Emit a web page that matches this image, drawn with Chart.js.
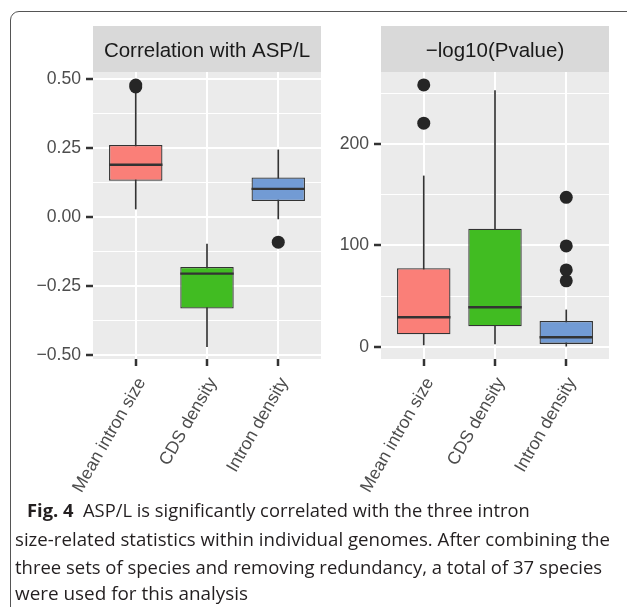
<!DOCTYPE html>
<html>
<head>
<meta charset="utf-8">
<script src="https://cdn.jsdelivr.net/npm/chart.js@4.4.0/dist/chart.umd.min.js"></script>
<style>
  html, body { margin: 0; padding: 0; background: #fff; width: 627px; height: 607px; overflow: hidden; }
  body { position: relative; }
  #frame { position: absolute; left: 10px; top: 11px; width: 640px; height: 620px; border: 1px solid #555; border-top-left-radius: 9px; box-sizing: border-box; }
  canvas { position: absolute; top: 0; }
  .cap { position: absolute; font-family: "Open Sans", sans-serif; font-size: 18px; line-height: 18px; color: #231f20; white-space: pre; transform-origin: 0 0; display: inline-block; }
</style>
</head>
<body>
<div id="frame"></div>
<canvas id="corrChart" width="330" height="500" style="left:0"></canvas>
<canvas id="pvalChart" width="297" height="500" style="left:330px"></canvas>

<span class="cap" data-w="503" style="left:27px;top:501px"><b>Fig. 4</b>  ASP/L is significantly correlated with the three intron</span>
<span class="cap" data-w="595" style="left:15px;top:530px">size-related statistics within individual genomes. After combining the</span>
<span class="cap" data-w="587" style="left:15px;top:558px">three sets of species and removing redundancy, a total of 37 species</span>
<span class="cap" data-w="233" style="left:15px;top:584px">were used for this analysis</span>

<script>
const categories = ['Mean intron size', 'CDS density', 'Intron density'];
const boxColors = ['#FA7F78', '#41BC22', '#729BD4'];

// Correlation with ASP/L
const corrLow      = [0.030, -0.468, -0.006];
const corrQ1       = [0.132, -0.330,  0.059];
const corrMedian   = [0.190, -0.204,  0.103];
const corrQ3       = [0.262, -0.180,  0.144];
const corrHigh     = [0.452, -0.097,  0.244];
const corrOutliers = [[0.472, 0.479], [], [-0.090]];
const corrTicks    = [-0.5, -0.25, 0, 0.25, 0.5];

// -log10(Pvalue)
const pLow      = [1.7, 2.7, 0.5];
const pQ1       = [12.3, 20.2, 2.7];
const pMedian   = [29, 39, 9.3];
const pQ3       = [77.5, 116.6, 25.4];
const pHigh     = [168.7, 253, 36.3];
const pOutliers = [[220.8, 258.6], [], [65, 75.8, 99.5, 147.6]];
const pTicks    = [0, 100, 200];

const FONT = '"Liberation Sans", Arial, Helvetica, sans-serif';

// ggplot-like panel background, strip and median lines
const panelPlugin = {
    id: 'panel',
    beforeDraw(chart, args, opts) {
        const { ctx, chartArea: a } = chart;
        ctx.save();
        ctx.fillStyle = '#EBEBEB';
        ctx.fillRect(a.left, a.top, a.right - a.left, a.bottom - a.top);
        ctx.fillStyle = '#D9D9D9';
        ctx.fillRect(a.left, a.top - 46, a.right - a.left, 46);
        ctx.fillStyle = '#1A1A1A';
        ctx.font = '20.5px ' + FONT;
        ctx.textAlign = 'center';
        ctx.textBaseline = 'alphabetic';
        ctx.fillText(opts.title, (a.left + a.right) / 2, a.top - 15);
        ctx.restore();
    },
    afterDatasetsDraw(chart, args, opts) {
        const { ctx } = chart;
        const meta = chart.getDatasetMeta(1);
        const yScale = chart.scales.y;
        ctx.save();
        ctx.strokeStyle = '#333';
        ctx.lineWidth = 2.4;
        meta.data.forEach((bar, i) => {
            const y = yScale.getPixelForValue(opts.median[i]);
            ctx.beginPath();
            ctx.moveTo(bar.x - bar.width / 2, y);
            ctx.lineTo(bar.x + bar.width / 2, y);
            ctx.stroke();
        });
        ctx.restore();
    }
};

function boxChart(id, p) {
    const isMajor = v => p.ticks.some(t => Math.abs(t - v) < 1e-9);
    return new Chart(document.getElementById(id), {
        type: 'bar',
        data: {
            datasets: [
                { // whiskers
                    type: 'bar', grouped: false, order: 3,
                    data: categories.map((c, i) => ({ x: i + 1, y: [p.low[i], p.high[i]] })),
                    backgroundColor: '#333', barThickness: 1
                },
                { // boxes
                    type: 'bar', grouped: false, order: 2,
                    data: categories.map((c, i) => ({ x: i + 1, y: [p.q1[i], p.q3[i]] })),
                    backgroundColor: boxColors, borderColor: '#333', borderWidth: 1.3,
                    borderSkipped: false, barPercentage: 0.75, categoryPercentage: 1
                },
                { // outliers
                    type: 'scatter', order: 1,
                    data: p.outliers.flatMap((arr, i) => arr.map(v => ({ x: i + 1, y: v }))),
                    pointRadius: 6.5, pointBackgroundColor: '#262626', pointBorderWidth: 0
                }
            ]
        },
        options: {
            responsive: false,
            animation: false,
            layout: { padding: { top: 72, right: p.padRight, bottom: 0, left: 0 } },
            plugins: { legend: { display: false }, tooltip: { enabled: false },
                       panel: { title: p.title, median: p.median } },
            scales: {
                x: {
                    type: 'linear', min: 0.4, max: 3.6, offset: false,
                    afterBuildTicks: s => { s.ticks = categories.map((c, i) => ({ value: i + 1 })); },
                    ticks: { autoSkip: false, minRotation: 60, maxRotation: 60, padding: 8, labelOffset: 6,
                             color: '#4D4D4D', font: { family: FONT, size: 17.6 },
                             callback: v => categories[v - 1] },
                    grid: { offset: false, color: '#fff', lineWidth: 2, tickColor: '#333', tickLength: 7, tickWidth: 2.5 },
                    border: { display: false },
                    afterFit: s => { s.height = 141; }
                },
                y: {
                    min: p.min, max: p.max,
                    ticks: { stepSize: p.step, includeBounds: false, autoSkip: false, padding: 5,
                             color: '#4D4D4D', font: { family: FONT, size: 17.6 },
                             callback: v => isMajor(v) ? p.fmt(v) : '' },
                    grid: { color: '#fff',
                            lineWidth: c => isMajor(c.tick.value) ? 2 : 1,
                            tickColor: c => isMajor(c.tick.value) ? '#333' : 'rgba(0,0,0,0)',
                            tickLength: 7, tickWidth: 2.5 },
                    border: { display: false },
                    afterFit: s => { s.width = p.axisWidth; }
                }
            }
        },
        plugins: [panelPlugin]
    });
}

boxChart('corrChart', {
    title: 'Correlation with ASP/L',
    low: corrLow, q1: corrQ1, median: corrMedian, q3: corrQ3, high: corrHigh, outliers: corrOutliers,
    ticks: corrTicks, min: -0.513, max: 0.526, step: 0.125,
    fmt: v => v.toFixed(2).replace('-', '\u2212'),
    axisWidth: 93, padRight: 9
});

boxChart('pvalChart', {
    title: '\u2212log10(Pvalue)',
    low: pLow, q1: pQ1, median: pMedian, q3: pQ3, high: pHigh, outliers: pOutliers,
    ticks: pTicks, min: -12.2, max: 271.4, step: 50,
    fmt: v => String(v),
    axisWidth: 51, padRight: 18
});

// fit caption lines to their measured widths
document.querySelectorAll('.cap').forEach(el => {
    const k = parseFloat(el.dataset.w) / el.offsetWidth;
    el.style.transform = 'scaleX(' + k + ')';
});
</script>
</body>
</html>
